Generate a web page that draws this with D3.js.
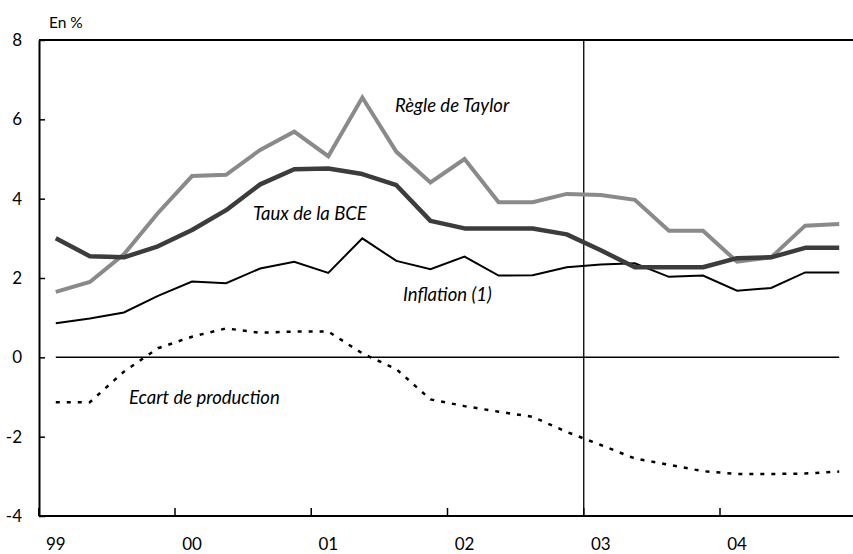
<!DOCTYPE html>
<html>
<head>
<meta charset="utf-8">
<script src="https://cdn.jsdelivr.net/npm/d3@7"></script>
<style>
  html, body { margin: 0; padding: 0; background: #fff; }
  svg { display: block; font-family: Lato, "Open Sans", sans-serif; }
</style>
</head>
<body>
<svg id="chart" width="853" height="554"></svg>
<script>
// ---- Data (quarterly, 1999T1 - 2004T4) ----
const quarters = [
  "99T1","99T2","99T3","99T4",
  "00T1","00T2","00T3","00T4",
  "01T1","01T2","01T3","01T4",
  "02T1","02T2","02T3","02T4",
  "03T1","03T2","03T3","03T4",
  "04T1","04T2","04T3","04T4"
];
const yearLabels = ["99","00","01","02","03","04"];
const yearFirstQuarter = ["99T1","00T1","01T1","02T1","03T1","04T1"];
const yTicks = [-4,-2,0,2,4,6,8];
const yTickLabels = ["-4","-2","0","2","4","6","8"];

const taylor = [1.65,1.90,2.60,3.64, 4.57,4.60,5.23,5.69, 5.07,6.55,5.18,4.41, 5.00,3.91,3.91,4.12, 4.09,3.97,3.19,3.19, 2.41,2.52,3.32,3.36];
const bce    = [3.00,2.55,2.52,2.80, 3.21,3.71,4.36,4.74, 4.76,4.62,4.34,3.44, 3.25,3.25,3.25,3.10, 2.70,2.27,2.27,2.27, 2.50,2.52,2.76,2.76];
const inflation = [0.86,0.98,1.13,1.55, 1.91,1.87,2.24,2.41, 2.13,3.00,2.43,2.22, 2.54,2.06,2.07,2.27, 2.34,2.37,2.03,2.06, 1.68,1.75,2.14,2.14];
const ecart  = [-1.13,-1.13,-0.36,0.23, 0.52,0.73,0.62,0.65, 0.65,0.10,-0.30,-1.06, -1.23,-1.37,-1.50,-1.88, -2.21,-2.55,-2.71,-2.87, -2.94,-2.94,-2.93,-2.88];

const markerQuarter = "03T1"; // vertical line

(function () {
  const svg = d3.select("#chart");
  const mLeft = 39, mTop = 40, mBottom = 516, mRight = 853;
  const plotRight = 856.25;

  const x = d3.scaleBand().domain(quarters).range([mLeft - 0.25, plotRight]).paddingInner(0).paddingOuter(0);
  const xc = q => x(q) + x.bandwidth() / 2;
  const y = d3.scaleLinear().domain([-4, 8]).range([mBottom, mTop]);

  // top frame line
  svg.append("line").attr("x1", mLeft).attr("x2", mRight).attr("y1", mTop).attr("y2", mTop)
    .attr("stroke", "#000").attr("stroke-width", 2);
  // bottom axis line
  svg.append("line").attr("x1", mLeft).attr("x2", mRight).attr("y1", mBottom).attr("y2", mBottom)
    .attr("stroke", "#000").attr("stroke-width", 2);

  // Y axis
  const yAxis = d3.axisLeft(y).tickValues(yTicks).tickSizeInner(-6).tickSizeOuter(0).tickPadding(17)
    .tickFormat((d, i) => yTickLabels[i]);
  const gy = svg.append("g").attr("transform", `translate(${mLeft},0)`).call(yAxis);
  gy.select(".domain").attr("stroke-width", 2);
  gy.selectAll(".tick line").attr("stroke-width", 1.5);
  gy.selectAll(".tick text").attr("font-size", 17).attr("fill", "#000")
    .attr("font-family", "Lato, 'Open Sans', sans-serif");

  // X ticks (year boundaries, pointing up)
  svg.append("g").selectAll("line").data(yearFirstQuarter).join("line")
    .attr("x1", d => x(d)).attr("x2", d => x(d))
    .attr("y1", mBottom).attr("y2", mBottom - 8)
    .attr("stroke", "#000").attr("stroke-width", 1.5);
  // X labels centred on first quarter
  svg.append("g").selectAll("text").data(yearLabels).join("text")
    .attr("x", (d, i) => xc(yearFirstQuarter[i]))
    .attr("y", 550)
    .attr("text-anchor", "middle")
    .attr("font-size", 17)
    .text(d => d);

  // "En %"
  svg.append("text").attr("x", 49).attr("y", 28).attr("font-size", 15.5).text("En %");

  // zero line
  svg.append("line")
    .attr("x1", xc(quarters[0])).attr("x2", xc(quarters[quarters.length - 1]))
    .attr("y1", y(0)).attr("y2", y(0))
    .attr("stroke", "#000").attr("stroke-width", 1.5);

  // vertical marker line
  svg.append("line")
    .attr("x1", x(markerQuarter)).attr("x2", x(markerQuarter))
    .attr("y1", mTop).attr("y2", mBottom)
    .attr("stroke", "#000").attr("stroke-width", 1.3);

  const line = d3.line().x((d, i) => xc(quarters[i])).y(d => y(d));

  svg.append("path").datum(ecart).attr("d", line)
    .attr("fill", "none").attr("stroke", "#000").attr("stroke-width", 2.5)
    .attr("stroke-dasharray", "4,7");
  svg.append("path").datum(inflation).attr("d", line)
    .attr("fill", "none").attr("stroke", "#000").attr("stroke-width", 2)
    .attr("stroke-linejoin", "miter");
  svg.append("path").datum(taylor).attr("d", line)
    .attr("fill", "none").attr("stroke", "#8a8a8a").attr("stroke-width", 4)
    .attr("stroke-linejoin", "miter");
  svg.append("path").datum(bce).attr("d", line)
    .attr("fill", "none").attr("stroke", "#3c3c3c").attr("stroke-width", 4.5)
    .attr("stroke-linejoin", "round");

  // series labels
  const labels = [
    {t: "Règle de Taylor", x: 395, y: 112},
    {t: "Taux de la BCE", x: 253, y: 220},
    {t: "Inflation (1)", x: 403, y: 301},
    {t: "Ecart de production", x: 129, y: 404}
  ];
  svg.append("g").selectAll("text").data(labels).join("text")
    .attr("x", d => d.x).attr("y", d => d.y)
    .attr("font-size", 18.5).attr("font-style", "italic")
    .text(d => d.t);
})();
</script>
</body>
</html>
